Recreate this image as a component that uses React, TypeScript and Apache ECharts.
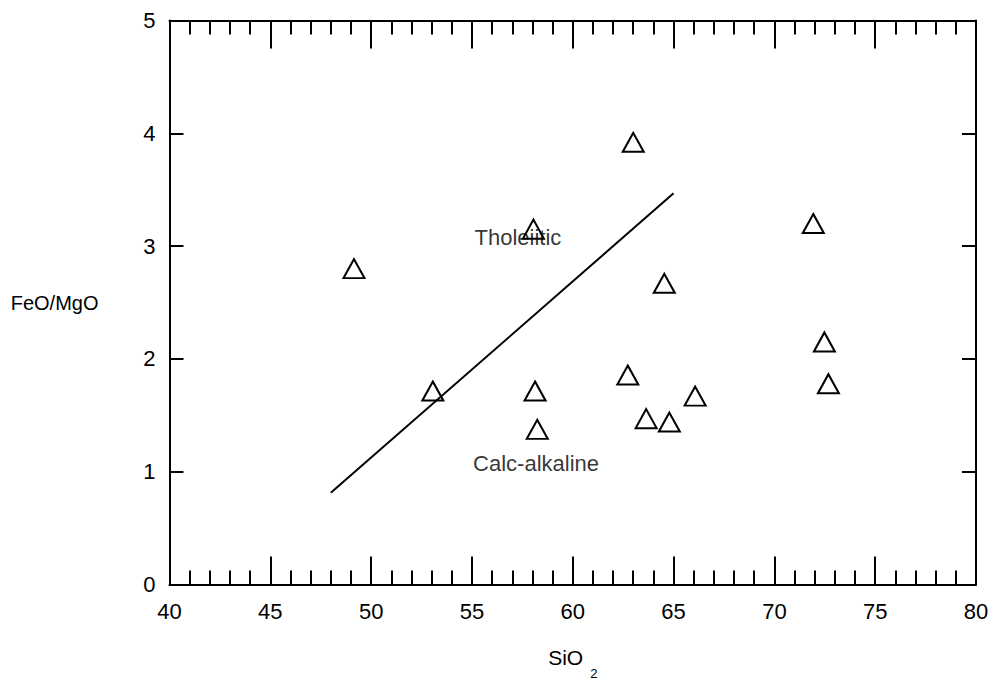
import React, { useEffect, useRef } from "react";
import * as echarts from "echarts";

const samples: [number, number][] = [
  [49.15, 2.8],
  [53.06, 1.715],
  [58.05, 3.15],
  [58.13, 1.715],
  [58.24, 1.375],
  [62.73, 1.857],
  [63.64, 1.47],
  [64.79, 1.44],
  [64.54, 2.67],
  [63.0, 3.92],
  [66.07, 1.67],
  [71.93, 3.2],
  [72.48, 2.15],
  [72.68, 1.78],
];

const boundaryLine: [number, number][] = [
  [48, 0.813],
  [65, 3.468],
];

const fieldLabels = [
  { name: "Tholeiitic", value: [57.28, 3.08] },
  { name: "Calc-alkaline", value: [58.18, 1.07] },
];

const FONT = "'Liberation Sans', Arial, sans-serif";

export default function App() {
  const ref = useRef<HTMLDivElement>(null);
  useEffect(() => {
    if (!ref.current) return;
    const chart = echarts.init(ref.current, undefined, { renderer: "svg" });
    const axisLine = { show: true, onZero: false, lineStyle: { color: "#000", width: 2 } };
    const xCommon = {
      type: "value",
      min: 40,
      max: 80,
      interval: 5,
      axisLine,
      axisTick: { show: true, inside: true, length: 28, lineStyle: { color: "#000", width: 2 } },
      minorTick: { show: true, splitNumber: 5, length: 14, lineStyle: { color: "#000", width: 2 } },
      splitLine: { show: false },
      minorSplitLine: { show: false },
    };
    const yCommon = {
      type: "value",
      min: 0,
      max: 5,
      interval: 1,
      axisLine,
      axisTick: { show: true, inside: true, length: 14, lineStyle: { color: "#000", width: 2 } },
      splitLine: { show: false },
    };
    chart.setOption({
      animation: false,
      backgroundColor: "#fff",
      textStyle: { fontFamily: FONT },
      grid: {
        left: 169.5,
        right: 18,
        top: 20.5,
        bottom: 94.5,
        containLabel: false,
        outerBoundsMode: "none",
      },
      xAxis: [
        {
          ...xCommon,
          position: "bottom",
          axisLabel: { show: true, color: "#000", fontSize: 22, fontFamily: FONT, margin: 16 },
          name: "SiO{sub|2}",
          nameLocation: "middle",
          nameGap: 50,
          nameTextStyle: {
            color: "#000",
            fontSize: 21,
            fontFamily: FONT,
            rich: {
              sub: { fontSize: 13, fontFamily: FONT, color: "#000", padding: [32, 0, 0, 7] },
            },
          },
        },
        {
          ...xCommon,
          position: "top",
          axisLabel: { show: false },
        },
      ],
      yAxis: [
        {
          ...yCommon,
          position: "left",
          axisLabel: { show: true, color: "#000", fontSize: 22, fontFamily: FONT, margin: 14 },
          name: "FeO/MgO",
          nameLocation: "middle",
          nameRotate: 0,
          nameGap: 71,
          nameTextStyle: { color: "#000", fontSize: 20, fontFamily: FONT, align: "right" },
        },
        {
          ...yCommon,
          position: "right",
          axisLabel: { show: false },
        },
      ],
      series: [
        {
          type: "scatter",
          data: fieldLabels,
          symbolSize: 0,
          z: 1,
          label: {
            show: true,
            position: "inside",
            formatter: "{b}",
            color: "#000",
            fontSize: 22,
            fontFamily: FONT,
          },
          silent: true,
        },
        {
          type: "line",
          data: boundaryLine,
          symbol: "none",
          z: 2,
          lineStyle: { color: "#000", width: 2 },
        },
        {
          type: "scatter",
          data: samples,
          symbol: "triangle",
          symbolSize: [21, 19],
          z: 3,
          itemStyle: { color: "rgba(0,0,0,0)", borderColor: "#000", borderWidth: 2, opacity: 1 },
        },
      ],
    });
    return () => chart.dispose();
  }, []);
  return (
    <div
      ref={ref}
      style={{ position: "fixed", left: 0, top: 0, width: 994, height: 679, background: "#fff" }}
    />
  );
}
